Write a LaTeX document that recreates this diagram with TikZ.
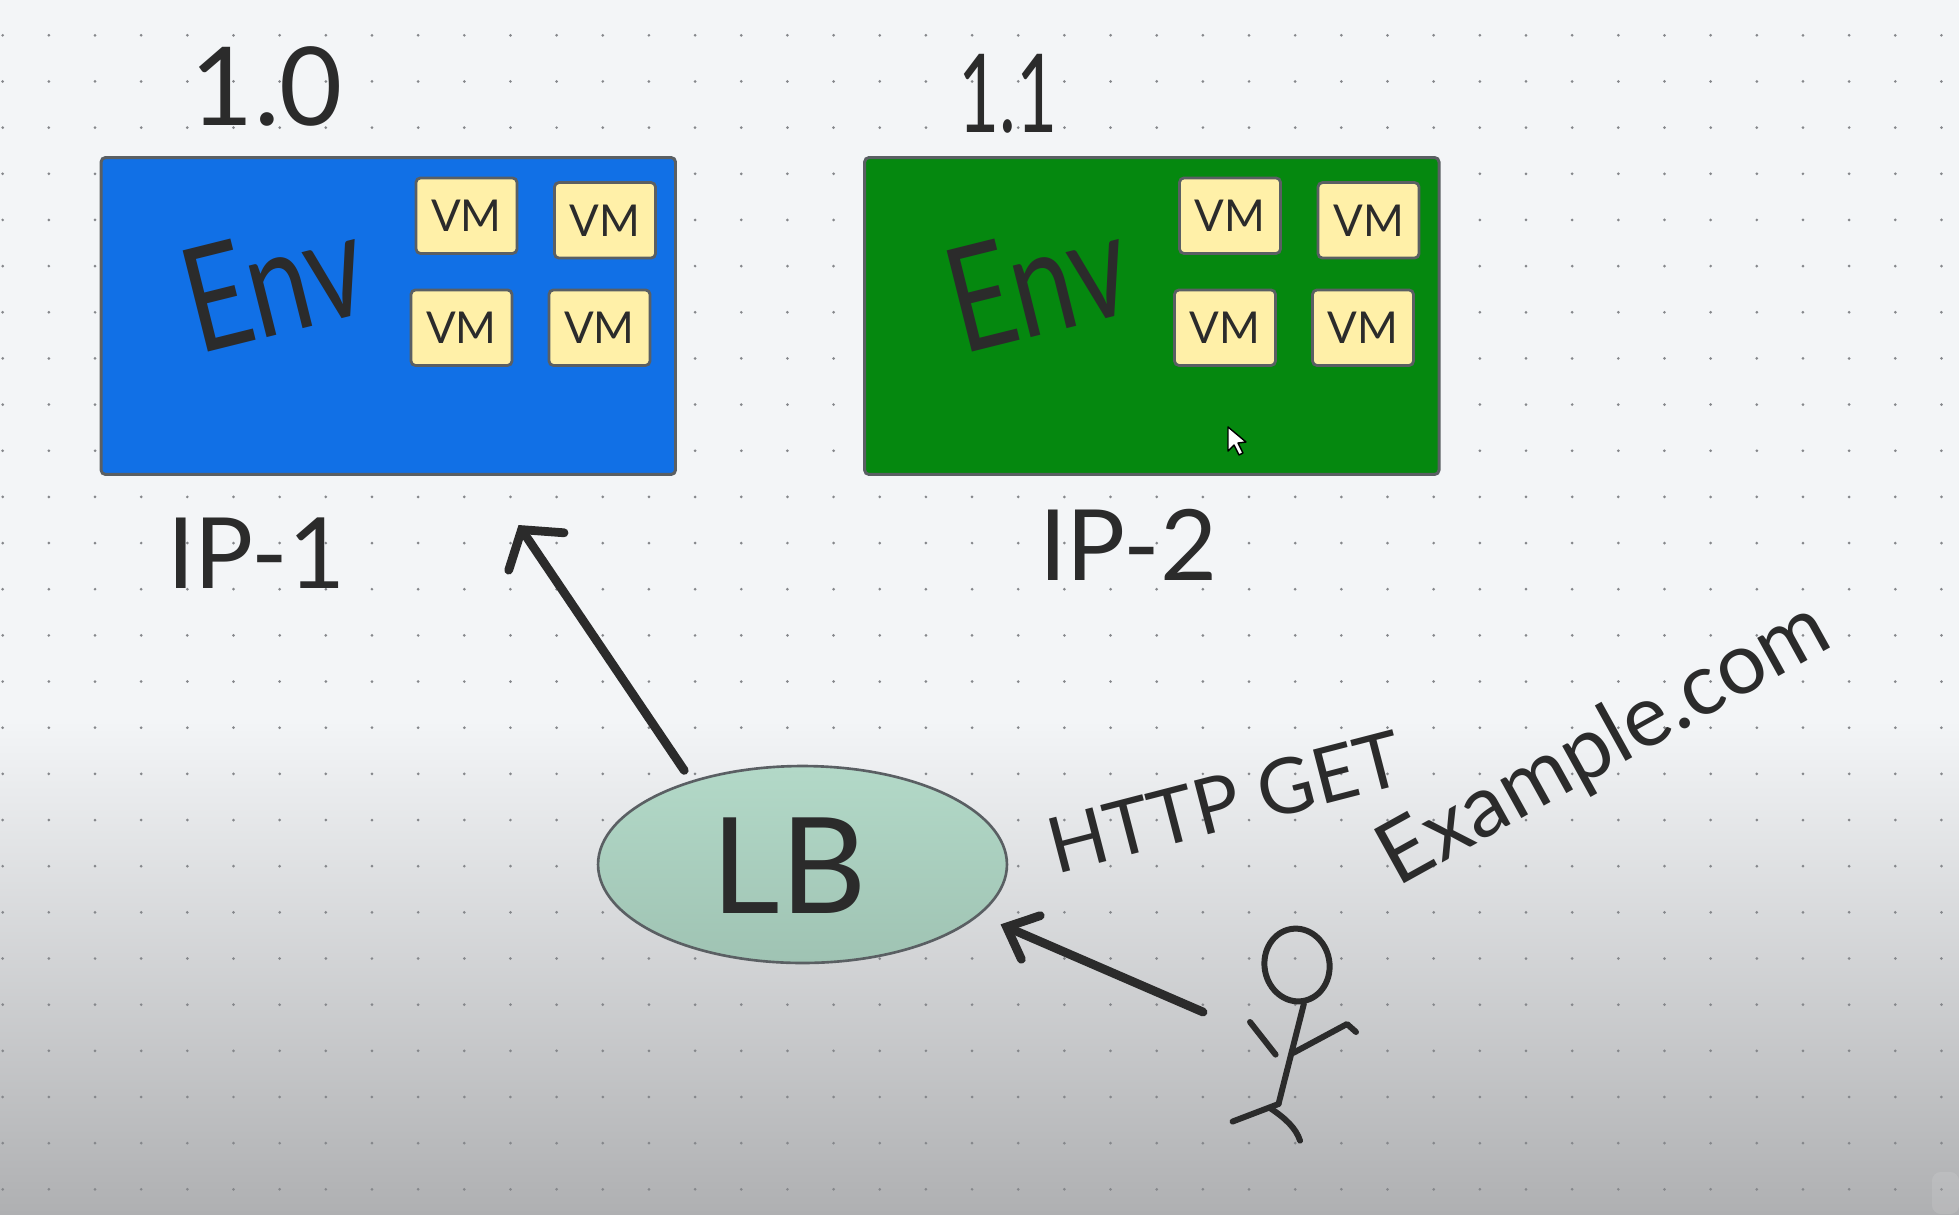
\documentclass[tikz,border=0pt]{standalone}
\usepackage{fontspec}
\setmainfont{Lato}
\usetikzlibrary{arrows.meta,shapes.geometric}

\definecolor{paper}{HTML}{F3F5F7}
\definecolor{paperdark}{HTML}{AFB0B2}
\definecolor{griddot}{HTML}{85878B}
\definecolor{ink}{HTML}{2B2B2B}
\definecolor{envblue}{HTML}{1170E6}
\definecolor{envgreen}{HTML}{05880F}
\definecolor{boxedge}{HTML}{5A5F63}
\definecolor{vmyellow}{HTML}{FFF0A8}
\definecolor{lbtop}{HTML}{B3D9C8}
\definecolor{lbbottom}{HTML}{9FC3B3}

\tikzset{
	handtext/.style={text=ink, inner sep=0pt, font=\fontsize{#1}{#1}\selectfont},
	envbox/.style={draw=boxedge, line width=1.7pt, rounded corners=2.5pt, minimum width=11.49cm, minimum height=6.34cm},
	vmbox/.style={draw=boxedge, line width=1.6pt, rounded corners=2.5pt, fill=vmyellow, text=ink, minimum width=2.02cm, minimum height=1.51cm, inner sep=0pt, font=\fontsize{25}{25}\selectfont},
	handarrow/.style={draw=ink, line width=5pt, line cap=round, -{Straight Barb[length=15pt,width=#1,line cap=round]}},
	stick/.style={draw=ink, line width=3.4pt, line cap=round, line join=round}
}

\begin{document}
\begin{tikzpicture}[x=0.02cm,y=-0.02cm]

\useasboundingbox (0,0) rectangle (1959,1214);
\fill[paper] (0,0) rectangle (1959,721);
\shade[top color=paper, bottom color=paperdark] (0,720) rectangle (1959,1214);

\foreach \i in {0,...,42} {
	\foreach \j in {0,...,25} {
		\fill[griddot] (2.7+46.16*\i,35.3+46.16*\j) circle [radius=0.85pt];
	}
}
\fill[white, opacity=0.1, rounded corners=5pt] (1932,1214) -- (1932,1172) -- (1959,1172) -- (1959,1214) -- cycle;

\foreach \n/\dx/\c in {blue/0/envblue,green/763.5/envgreen} {
	\node [envbox, fill=\c] (env\n) at (388.3+\dx,316) {};
	\node [handtext=72, rotate=14] (envtext\n) at (274+\dx,282) {\scalebox{0.88}[1.15]{Env}};
	\foreach \k/\x/\y in {1/466.5/215.7,2/605/220.3,3/461.5/327.7,4/599.5/327.7} {
		\node [vmbox] (vm\n\k) at (\x+\dx,\y) {VM};
	}
}

\node [handtext=62] (verone) at (267,86) {1.0};
\node [handtext=62] (vertwo) at (1008,94) {\scalebox{0.65}[1]{1.1}};
\node [handtext=56] (ipone) at (256,553) {IP-1};
\node [handtext=56] (iptwo) at (1128,545) {IP-2};

\draw[fill=white, draw=black, line width=0.8pt, line join=round] (1228,427) -- (1228,451) -- (1234,445) -- (1239,455) -- (1243,453) -- (1238,443) -- (1246,442) -- cycle;

\node [draw=boxedge, line width=1.5pt, ellipse, top color=lbtop, bottom color=lbbottom, minimum width=8.18cm, minimum height=3.94cm, inner sep=0pt] (lb) at (802.5,864.5) {};
\node [handtext=76] (lbtext) at (789,866) {LB};

\node [handtext=44, rotate=14.5] (httpget) at (1225,802) {HTTP GET};
\node [handtext=49, rotate=29] (website) at (1605,745) {Example.com};

\coordinate (envtip) at (518.5,525);
\coordinate (visitorhand) at (1203,1012);
\draw [handarrow=38pt, shorten <=7pt] (lb.143) -- (envtip);
\draw [handarrow=27pt, shorten >=13pt] (visitorhand) -- (lb.-16);

\node [stick, ellipse, rotate=10, minimum width=1.3cm, minimum height=1.46cm, inner sep=0pt] (head) at (1297,965) {};
\coordinate (hip) at (1278.5,1104);
\draw [stick] (head.south) -- (hip);
\draw [stick] (1293,1053) -- (1347,1024) -- (1356,1032);
\draw [stick] (1250,1022) -- (1275.6,1054.6);
\draw [stick] (hip) -- (1232.6,1121.5);
\draw [stick] (1270,1108) .. controls (1285,1118) and (1296,1128) .. (1300,1140.6);

\end{tikzpicture}
\end{document}
